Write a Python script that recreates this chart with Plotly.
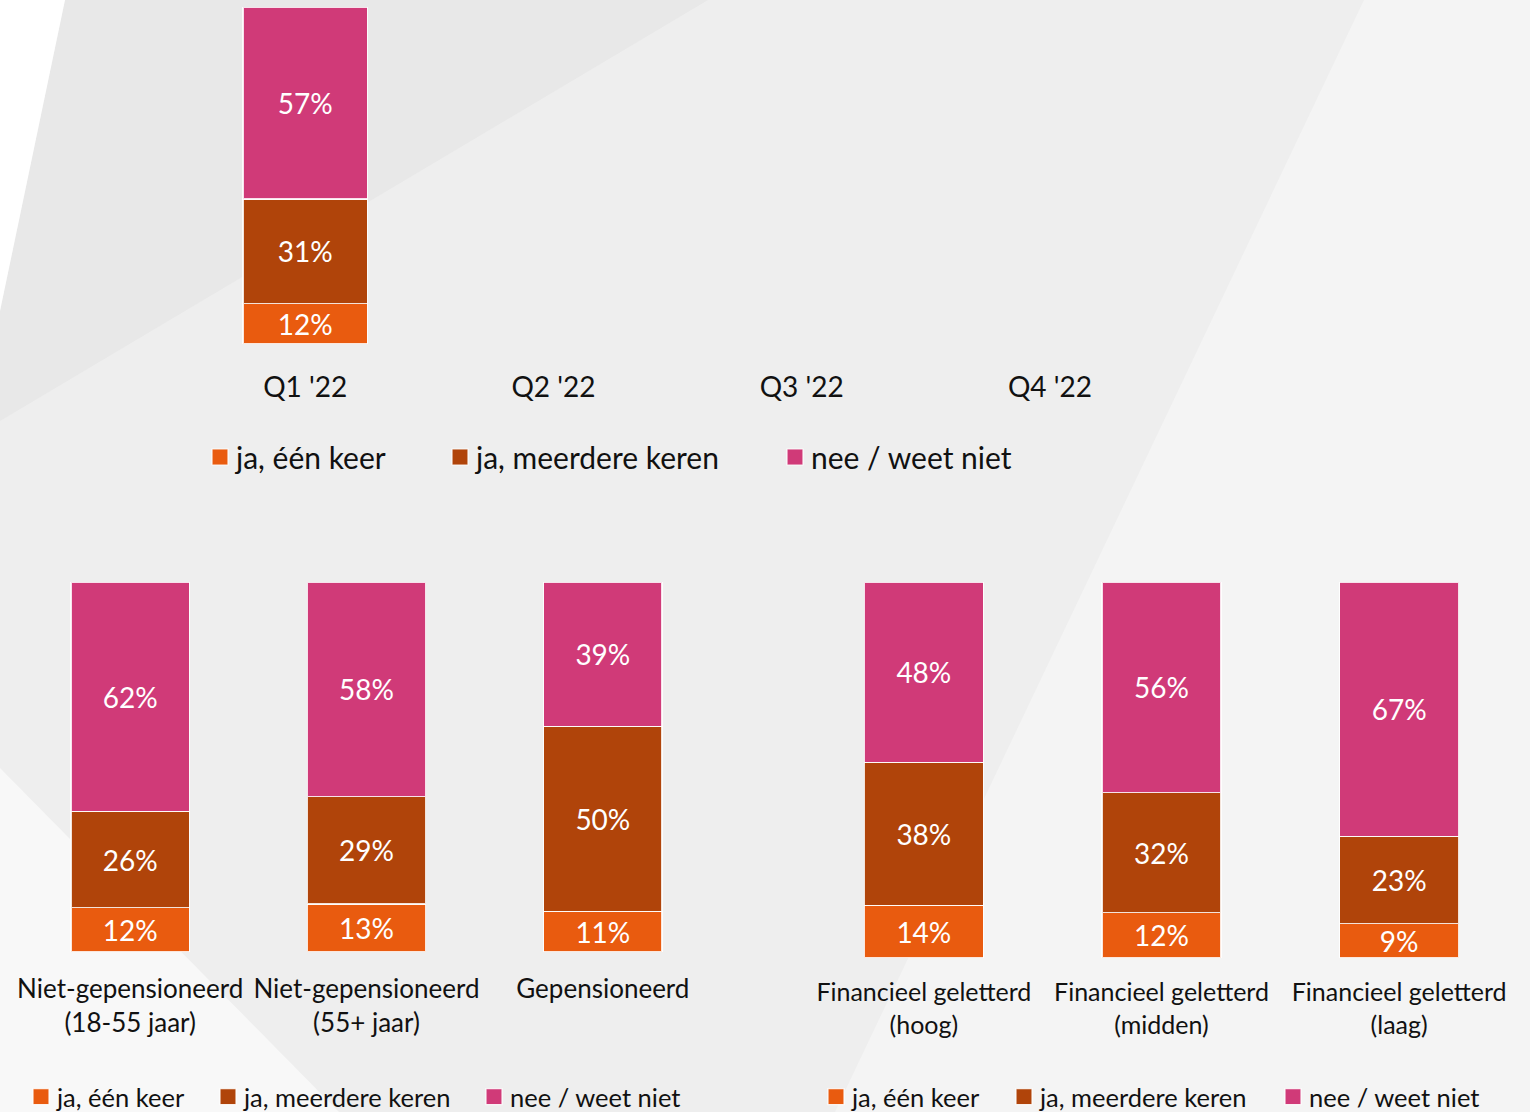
import plotly.graph_objects as go

W, H = 1530, 1112
FONT = "Lato"

# ---------------- data ----------------
series_names = ["ja, één keer", "ja, meerdere keren", "nee / weet niet"]
series_colors = ["#E95B0F", "#B0440A", "#D03A78"]

quarters = ["Q1 '22", "Q2 '22", "Q3 '22", "Q4 '22"]
q_een_keer = [12, None, None, None]
q_meerdere = [31, None, None, None]
q_nee = [57, None, None, None]

pension_groups = ["Niet-gepensioneerd<br>(18-55 jaar)", "Niet-gepensioneerd<br>(55+ jaar)", "Gepensioneerd<br> "]
p_een_keer = [12, 13, 11]
p_meerdere = [26, 29, 50]
p_nee = [62, 58, 39]

literacy_groups = ["Financieel geletterd<br>(hoog)", "Financieel geletterd<br>(midden)", "Financieel geletterd<br>(laag)"]
l_een_keer = [14, 12, 9]
l_meerdere = [38, 32, 23]
l_nee = [48, 56, 67]

# ---------------- helpers ----------------
def px(x):
    return x / W

def py(y):
    return 1 - y / H

fig = go.Figure()

panels = [
    ("x", "y", quarters, [q_een_keer, q_meerdere, q_nee], ["legend", "legend2", "legend3"], [212, 452, 787], 457, 30, -2),
    ("x2", "y2", pension_groups, [p_een_keer, p_meerdere, p_nee], ["legend4", "legend5", "legend6"], [35, 222, 488], 1097, 25.5, -4),
    ("x3", "y3", literacy_groups, [l_een_keer, l_meerdere, l_nee], ["legend7", "legend8", "legend9"], [830, 1018, 1287], 1097, 25.5, -4),
]

legend_layout = {}
for xa, ya, cats, series, legs, legx, legy, legfs, shift in panels:
    pos = list(range(len(cats)))
    for i, vals in enumerate(series):
        fig.add_trace(go.Bar(
            x=pos, y=vals, width=0.5,
            name=series_names[i],
            marker=dict(color=series_colors[i], line=dict(color="rgba(255,255,255,0.85)", width=1.2)),
            text=[f"{v}%" if v is not None else "" for v in vals],
            texttemplate="%{text}",
            textposition="inside", insidetextanchor="middle",
            constraintext="none",
            textfont=dict(color="white", size=28, family=FONT),
            xaxis=xa, yaxis=ya, legend=legs[i], showlegend=True,
            hoverinfo="skip",
        ))
        legend_layout[legs[i]] = dict(
            x=px(legx[i] - 14 + shift), y=py(legy), xanchor="left", yanchor="middle",
            orientation="h", bgcolor="rgba(0,0,0,0)", borderwidth=0,
            font=dict(size=legfs, family=FONT, color="#111111"),
        )

axis_common = dict(showgrid=False, zeroline=False, showline=False, ticks="outside",
                   tickcolor="rgba(0,0,0,0)", fixedrange=True)

fig.update_layout(
    width=W, height=H,
    margin=dict(l=0, r=0, t=0, b=0, autoexpand=False),
    paper_bgcolor="#EEEEEE", plot_bgcolor="rgba(0,0,0,0)",
    barmode="stack", barnorm="percent",
    font=dict(family=FONT, color="#111111"),
    xaxis=dict(domain=[px(181), px(1174)], anchor="y", range=[-0.5, len(quarters) - 0.5],
               tickvals=list(range(len(quarters))), ticktext=quarters, ticklen=18,
               tickfont=dict(size=28, family=FONT, color="#111111"), **axis_common),
    yaxis=dict(domain=[py(344), py(7)], anchor="x", range=[0, 100], visible=False),
    xaxis2=dict(domain=[px(12), px(721)], anchor="y2", range=[-0.5, len(pension_groups) - 0.5],
                tickvals=list(range(len(pension_groups))), ticktext=pension_groups, ticklen=14,
                tickfont=dict(size=26, family=FONT, color="#111111"), **axis_common),
    yaxis2=dict(domain=[py(952), py(582)], anchor="x2", range=[0, 100], visible=False),
    xaxis3=dict(domain=[px(805), px(1518)], anchor="y3", range=[-0.5, len(literacy_groups) - 0.5],
                tickvals=list(range(len(literacy_groups))), ticktext=literacy_groups, ticklen=12,
                tickfont=dict(size=25, family=FONT, color="#111111"), **axis_common),
    yaxis3=dict(domain=[py(958), py(582)], anchor="x3", range=[0, 100], visible=False),
    **legend_layout,
)

# background geometric shapes
def poly(points, color):
    path = "M " + " L ".join(f"{px(x):.5f},{py(y):.5f}" for x, y in points) + " Z"
    fig.add_shape(type="path", path=path, xref="paper", yref="paper",
                  fillcolor=color, line=dict(width=0), layer="below")

poly([(65, 0), (708, 0), (0, 421), (0, 311)], "#E8E8E8")
poly([(0, 0), (65, 0), (0, 311)], "#FFFFFF")
poly([(1364, 0), (1530, 0), (1530, 1112), (835, 1112)], "#F4F4F4")
poly([(0, 768), (339, 1112), (0, 1112)], "#F8F8F8")

post = """
document.body.style.margin='0';
document.body.style.overflow='hidden';
var gd = document.getElementById('{plot_id}');
function bigSymbols(){
  gd.querySelectorAll('g.legendpoints path').forEach(function(p){ p.setAttribute('d','M12,8H-4V-8H12Z'); });
}
bigSymbols();
setTimeout(bigSymbols, 50);
setTimeout(bigSymbols, 300);
gd.on('plotly_afterplot', bigSymbols);
"""

fig.write_html("out.html", config={"displayModeBar": False}, post_script=post)
